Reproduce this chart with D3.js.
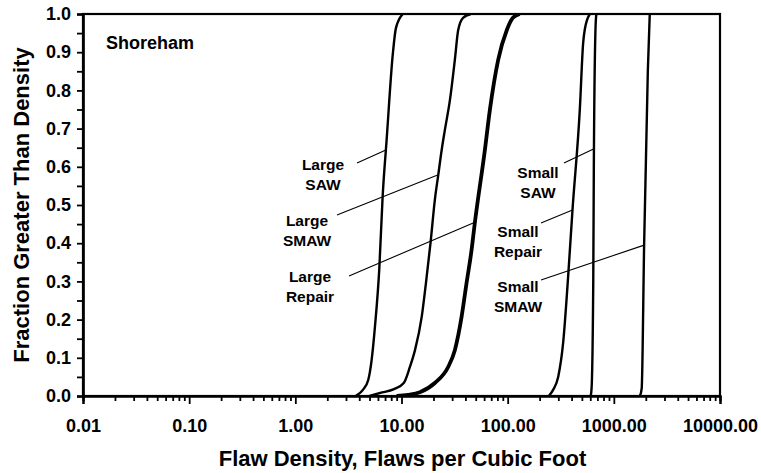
<!DOCTYPE html>
<html>
<head>
<meta charset="utf-8">
<script src="https://cdn.jsdelivr.net/npm/d3@7"></script>
<style>
  body { margin: 0; background: #fff; }
  text { font-family: "Liberation Sans", Arial, sans-serif; font-weight: bold; fill: #000; }
</style>
</head>
<body>
<div id="chart"></div>
<script>
// density (flaws per cubic foot) vs fraction
var largeSaw = [[3.7,0],[4.33,0.016],[4.86,0.042],[5.23,0.094],[5.62,0.181],[6.17,0.33],[6.64,0.521],[7.24,0.67],[8.3,0.898],[8.86,0.963],[10.3,1.0]];
var largeSmaw = [[5.0,0],[6.3,0.008],[8.5,0.018],[10.5,0.034],[12.0,0.076],[13.4,0.12],[15.5,0.207],[17.0,0.296],[18.8,0.403],[20.6,0.513],[22.2,0.579],[23.9,0.644],[25.6,0.696],[28.6,0.775],[31.8,0.88],[34.2,0.958],[38,0.99],[45,1.0]];
var largeRepair = [[9.0,0],[11.5,0.003],[14.9,0.01],[20.6,0.034],[27.5,0.076],[31.8,0.12],[36.8,0.207],[41.0,0.296],[45.7,0.382],[48.8,0.448],[61.0,0.644],[68.0,0.749],[81.4,0.88],[98.2,0.958],[112,0.99],[130,1.0]];
var smallRepair = [[244,0],[268,0.016],[299,0.05],[333,0.139],[371,0.312],[408,0.487],[478,0.749],[514,0.924],[533,0.96],[594,1.0]];
var smallSaw = [[605,0],[617,0.02],[640,0.3],[648,0.6],[670,0.95],[684,1.0]];
var smallSmaw = [[1760,0],[1830,0.02],[1930,0.4],[2090,0.85],[2180,1.0]];

var xMajor = [0.01, 0.1, 1, 10, 100, 1000, 10000];
var yMajor = [0, 0.1, 0.2, 0.3, 0.4, 0.5, 0.6, 0.7, 0.8, 0.9, 1.0];

// label text and the fraction where its leader line meets the curve
var labels = [
  {lines: ["Large", "SAW"], data: largeSaw, at: 0.644},
  {lines: ["Large", "SMAW"], data: largeSmaw, at: 0.579},
  {lines: ["Large", "Repair"], data: largeRepair, at: 0.455},
  {lines: ["Small", "SAW"], data: smallSaw, at: 0.647},
  {lines: ["Small", "Repair"], data: smallRepair, at: 0.487},
  {lines: ["Small", "SMAW"], data: smallSmaw, at: 0.395}
];

var width = 761, height = 473;
var margin = {top: 14, right: 41, bottom: 77, left: 83};
var inW = width - margin.left - margin.right;
var inH = height - margin.top - margin.bottom;

var x = d3.scaleLog().domain([0.01, 10000]).range([0, inW]);
var y = d3.scaleLinear().domain([0, 1]).range([inH, 0]);

var svg = d3.select("#chart").append("svg")
  .attr("width", width)
  .attr("height", height)
  .append("g")
  .attr("transform", `translate(${margin.left},${margin.top})`);

svg.append("clipPath").attr("id", "plot")
  .append("rect").attr("width", inW).attr("height", inH);

// curves
var line = d3.line()
  .x(function(d) { return x(d[0]); })
  .y(function(d) { return y(d[1]); })
  .curve(d3.curveMonotoneX);

[largeSaw, largeSmaw, smallRepair, smallSaw, smallSmaw].forEach(function(s) {
  svg.append("path").datum(s)
    .attr("clip-path", "url(#plot)")
    .attr("d", line)
    .style("fill", "none")
    .style("stroke", "#000")
    .style("stroke-width", 2.4);
});
svg.append("path").datum(largeRepair)
  .attr("clip-path", "url(#plot)")
  .attr("d", line)
  .style("fill", "none")
  .style("stroke", "#000")
  .style("stroke-width", 3.8);

// x on a curve for a given fraction (linear in log space between read points)
function xAt(s, f) {
  for (var i = 1; i < s.length; i++) {
    if (s[i][1] >= f) {
      var a = s[i-1], b = s[i], t = (f - a[1]) / (b[1] - a[1]);
      return x(a[0]) + t * (x(b[0]) - x(a[0]));
    }
  }
  return x(s[s.length-1][0]);
}

// annotation text positions (centre of the two lines, first baseline) and leader start
var labelPos = [
  {cx: 240, cy: 156, lx: 274, ly: 149},
  {cx: 224, cy: 212, lx: 254, ly: 201},
  {cx: 227, cy: 268, lx: 266, ly: 262},
  {cx: 455, cy: 164, lx: 481, ly: 149},
  {cx: 435, cy: 223, lx: 458, ly: 209},
  {cx: 435, cy: 278, lx: 458, ly: 266}
];

labels.forEach(function(l, i) {
  var p = labelPos[i];
  var t = svg.append("text")
    .attr("text-anchor", "middle")
    .style("font-size", "15.5px");
  l.lines.forEach(function(s, j) {
    t.append("tspan").attr("x", p.cx).attr("y", p.cy + j * 20).text(s);
  });
  svg.append("line")
    .attr("x1", p.lx).attr("y1", p.ly)
    .attr("x2", xAt(l.data, l.at)).attr("y2", y(l.at))
    .style("stroke", "#000")
    .style("stroke-width", 1.1);
});

svg.append("text")
  .attr("x", 23).attr("y", 35)
  .style("font-size", "18px")
  .text("Shoreham");

// frame
svg.append("rect")
  .attr("width", inW).attr("height", inH)
  .style("fill", "none")
  .style("stroke", "#000")
  .style("stroke-width", 2.2);

// x axis, majors with labels and minors 2..9
var xMinor = [];
for (var e = -2; e < 4; e++) {
  for (var m = 2; m < 10; m++) xMinor.push(m * Math.pow(10, e));
}
var xAxis = svg.append("g")
  .attr("transform", `translate(0,${inH})`)
  .call(d3.axisBottom(x).tickValues(xMajor).tickFormat(d3.format(".2f")).tickSize(8).tickPadding(15));
svg.append("g")
  .attr("transform", `translate(0,${inH})`)
  .call(d3.axisBottom(x).tickValues(xMinor).tickFormat("").tickSize(5));

var yMinor = d3.range(0.05, 1, 0.1);
var yAxis = svg.append("g")
  .call(d3.axisLeft(y).tickValues(yMajor).tickFormat(d3.format(".1f")).tickSize(6).tickPadding(6));
svg.append("g")
  .call(d3.axisLeft(y).tickValues(yMinor).tickFormat("").tickSize(6));

svg.selectAll(".domain").style("stroke-width", 2.2);
svg.selectAll(".tick line").style("stroke-width", 1.8);
xAxis.selectAll("text").style("font-size", "18px");
yAxis.selectAll("text").style("font-size", "18px");

// axis titles
svg.append("text")
  .attr("x", inW / 2 + 1).attr("y", inH + 70)
  .attr("text-anchor", "middle")
  .style("font-size", "22px")
  .text("Flaw Density, Flaws per Cubic Foot");

svg.append("text")
  .attr("transform", `translate(${-54},${inH / 2}) rotate(-90)`)
  .attr("text-anchor", "middle")
  .style("font-size", "22px")
  .text("Fraction Greater Than Density");
</script>
</body>
</html>
